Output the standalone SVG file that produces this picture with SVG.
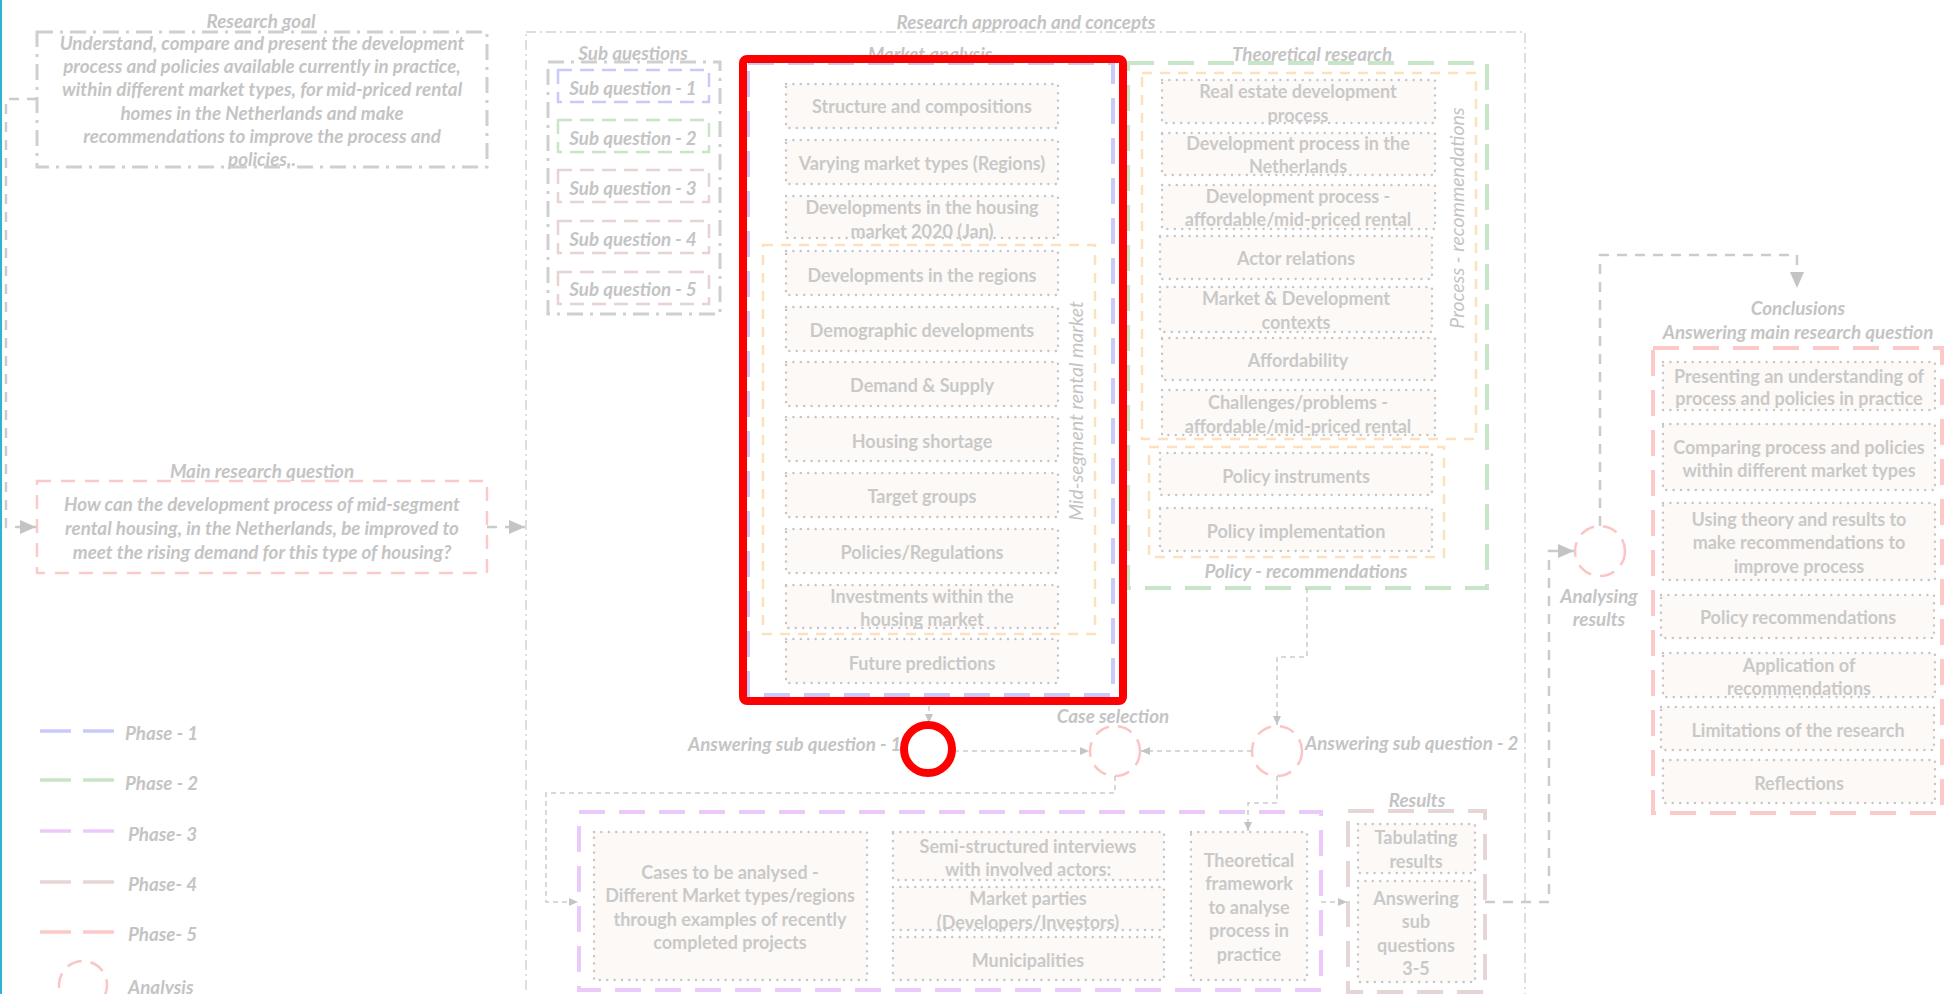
<svg xmlns="http://www.w3.org/2000/svg" width="1947" height="994" viewBox="0 0 1947 994">
  <style>
    .t { font-family: Lato, 'Liberation Sans', sans-serif; font-weight: 700; font-size: 18px; fill: #c9c9c9; text-anchor: middle; dominant-baseline: central; }
    .lab { font-family: Lato, 'Liberation Sans', sans-serif; font-weight: 700; font-style: italic; font-size: 18.8px; fill: #c4c4c4; text-anchor: middle; dominant-baseline: central; }
    .lab-light { font-weight: 400; font-size: 19.5px; }
    .st { text-anchor: start; }
    .item { fill: #fdf9f6; stroke: #c6c6c6; stroke-width: 2.5; stroke-dasharray: 0 7.4; stroke-linecap: round; }
    .dashdot { fill: none; stroke: #cfcfcf; stroke-width: 3; stroke-dasharray: 16 7 3 7; }
    .dashdot-thin { fill: none; stroke: #d4d4d4; stroke-width: 1.5; stroke-dasharray: 10 4 2 4; }
    .p1 { fill: none; stroke: #c8caf9; stroke-width: 4; stroke-dasharray: 26 14; }
    .p2 { fill: none; stroke: #c8e5c8; stroke-width: 4; stroke-dasharray: 26 14; }
    .p3 { fill: none; stroke: #ebcafb; stroke-width: 4; stroke-dasharray: 26 14; }
    .p4 { fill: none; stroke: #e5d5d5; stroke-width: 4; stroke-dasharray: 26 14; }
    .p5 { fill: none; stroke: #fcc9c9; stroke-width: 4; stroke-dasharray: 26 14; }
    .sq1 { fill: none; stroke: #c8caf9; stroke-width: 2.5; stroke-dasharray: 14 8; }
    .sq2 { fill: none; stroke: #c8e5c8; stroke-width: 2.5; stroke-dasharray: 14 8; }
    .sq3 { fill: none; stroke: #e8d3d3; stroke-width: 2.5; stroke-dasharray: 14 8; }
    .pink { fill: none; stroke: #fcc9c9; stroke-width: 2.5; stroke-dasharray: 14 10; }
    .orange { fill: none; stroke: #fde1bf; stroke-width: 2.5; stroke-dasharray: 10 8; }
    .circ { fill: none; stroke: #fcc5c5; stroke-width: 2.5; stroke-dasharray: 15 9; }
    .conn { fill: none; stroke: #cbcbcb; stroke-width: 1.5; stroke-dasharray: 5 4; }
    .conn-bold { fill: none; stroke: #cbcbcb; stroke-width: 2.5; stroke-dasharray: 10 8; }
    .leg { stroke-width: 3.5; }
    .hl { fill: none; stroke: #ff0000; stroke-width: 8; }
  </style>
  <defs>
    <marker id="arrowSmall" markerUnits="userSpaceOnUse" markerWidth="9" markerHeight="8" refX="9" refY="4" orient="auto">
      <path d="M0,0 L9,4 L0,8 Z" fill="#c4c4c4"/>
    </marker>
    <marker id="arrowBig" markerUnits="userSpaceOnUse" markerWidth="16" markerHeight="14" refX="16" refY="7" orient="auto">
      <path d="M0,0 L16,7 L0,14 Z" fill="#c4c4c4"/>
    </marker>
  </defs>

  <rect width="1947" height="994" fill="#ffffff"/>
  <!-- left page edge -->
  <line x1="1" y1="0" x2="1" y2="994" stroke="#2bb5d0" stroke-width="2"/>

  <!-- research goal -->
  <g id="research-goal">
    <text class="lab" x="261" y="20">Research goal</text>
    <rect class="dashdot" x="37" y="32" width="450" height="135"/>
    <text class="lab" x="262" y="42">Understand, compare and present the development</text>
    <text class="lab" x="262" y="65">process and policies available currently in practice,</text>
    <text class="lab" x="262" y="88">within different market types, for mid-priced rental</text>
    <text class="lab" x="262" y="112">homes in the Netherlands and make</text>
    <text class="lab" x="262" y="135">recommendations to improve the process and</text>
    <text class="lab" x="262" y="158">policies..</text>
  </g>

  <!-- main research question -->
  <g id="main-question">
    <text class="lab" x="262" y="470">Main research question</text>
    <rect class="pink" x="37" y="481" width="450" height="92"/>
    <text class="lab" x="262" y="503">How can the development process of mid-segment</text>
    <text class="lab" x="262" y="527">rental housing, in the Netherlands, be improved to</text>
    <text class="lab" x="262" y="551">meet the rising demand for this type of housing?</text>
  </g>

  <!-- research approach frame -->
  <g id="research-approach">
    <text class="lab" x="1026" y="21">Research approach and concepts</text>
    <rect class="dashdot-thin" x="526" y="32" width="999" height="980"/>
  </g>

  <!-- sub questions -->
  <g id="sub-questions">
    <text class="lab" x="633" y="52">Sub questions</text>
    <rect class="dashdot" x="548" y="62" width="172" height="252"/>
    <rect class="sq1" x="558" y="70" width="151" height="32"/>
    <text class="lab" x="633" y="87">Sub question - 1</text>
    <rect class="sq2" x="558" y="120" width="151" height="32"/>
    <text class="lab" x="633" y="137">Sub question - 2</text>
    <rect class="sq3" x="558" y="170" width="151" height="32"/>
    <text class="lab" x="633" y="187">Sub question - 3</text>
    <rect class="sq3" x="558" y="221" width="151" height="32"/>
    <text class="lab" x="633" y="238">Sub question - 4</text>
    <rect class="sq3" x="558" y="272" width="151" height="32"/>
    <text class="lab" x="633" y="288">Sub question - 5</text>
  </g>

  <!-- market analysis -->
  <g id="market-analysis">
    <text class="lab" x="930" y="53">Market analysis</text>
    <rect class="p1" x="748" y="63" width="365" height="632"/>
    <rect class="orange" x="763" y="245" width="332" height="389"/>
    <text class="lab lab-light" transform="translate(1075 411) rotate(-90)" x="0" y="0">Mid-segment rental market</text>
    <rect class="item" x="786" y="84" width="272" height="44"/>
    <text class="t" x="922" y="106">Structure and compositions</text>
    <rect class="item" x="786" y="140" width="272" height="44"/>
    <text class="t" x="922" y="163">Varying market types (Regions)</text>
    <rect class="item" x="786" y="196" width="272" height="42"/>
    <text class="t" x="922" y="207">Developments in the housing</text>
    <text class="t" x="922" y="231">market 2020 (Jan)</text>
    <rect class="item" x="786" y="251" width="272" height="44"/>
    <text class="t" x="922" y="275">Developments in the regions</text>
    <rect class="item" x="786" y="307" width="272" height="44"/>
    <text class="t" x="922" y="330">Demographic developments</text>
    <rect class="item" x="786" y="362" width="272" height="44"/>
    <text class="t" x="922" y="385">Demand &amp; Supply</text>
    <rect class="item" x="786" y="417" width="272" height="44"/>
    <text class="t" x="922" y="441">Housing shortage</text>
    <rect class="item" x="786" y="473" width="272" height="44"/>
    <text class="t" x="922" y="496">Target groups</text>
    <rect class="item" x="786" y="529" width="272" height="44"/>
    <text class="t" x="922" y="552">Policies/Regulations</text>
    <rect class="item" x="786" y="585" width="272" height="43"/>
    <text class="t" x="922" y="596">Investments within the</text>
    <text class="t" x="922" y="619">housing market</text>
    <rect class="item" x="786" y="639" width="272" height="44"/>
    <text class="t" x="922" y="663">Future predictions</text>
  </g>

  <!-- theoretical research -->
  <g id="theoretical-research">
    <text class="lab" x="1312" y="53">Theoretical research</text>
    <rect class="p2" x="1128" y="63" width="359" height="525"/>
    <rect class="orange" x="1142" y="73" width="334" height="366"/>
    <text class="lab lab-light" transform="translate(1456 218) rotate(-90)" x="0" y="0">Process - recommendations</text>
    <rect class="item" x="1162" y="80" width="273" height="43"/>
    <text class="t" x="1298" y="91">Real estate development</text>
    <text class="t" x="1298" y="115">process</text>
    <rect class="item" x="1162" y="133" width="273" height="42"/>
    <text class="t" x="1298" y="143">Development process in the</text>
    <text class="t" x="1298" y="166">Netherlands</text>
    <rect class="item" x="1162" y="185" width="273" height="44"/>
    <text class="t" x="1298" y="196">Development process -</text>
    <text class="t" x="1298" y="219">affordable/mid-priced rental</text>
    <rect class="item" x="1160" y="236" width="272" height="43"/>
    <text class="t" x="1296" y="258">Actor relations</text>
    <rect class="item" x="1160" y="287" width="272" height="45"/>
    <text class="t" x="1296" y="298">Market &amp; Development</text>
    <text class="t" x="1296" y="322">contexts</text>
    <rect class="item" x="1162" y="338" width="273" height="42"/>
    <text class="t" x="1298" y="360">Affordability</text>
    <rect class="item" x="1162" y="390" width="273" height="45"/>
    <text class="t" x="1298" y="402">Challenges/problems -</text>
    <text class="t" x="1298" y="426">affordable/mid-priced rental</text>
    <rect class="orange" x="1149" y="447" width="295" height="110"/>
    <rect class="item" x="1160" y="453" width="272" height="42"/>
    <text class="t" x="1296" y="476">Policy instruments</text>
    <rect class="item" x="1160" y="508" width="272" height="43"/>
    <text class="t" x="1296" y="531">Policy implementation</text>
    <text class="lab" x="1306" y="570">Policy - recommendations</text>
  </g>

  <!-- analysis points -->
  <g id="analysis-sq1">
    <circle class="circ" cx="928" cy="749" r="25"/>
    <text class="lab st" x="688" y="743">Answering sub question - 1</text>
  </g>
  <g id="case-selection">
    <circle class="circ" cx="1115" cy="751" r="25"/>
    <text class="lab" x="1113" y="715">Case selection</text>
  </g>
  <g id="analysis-sq2">
    <circle class="circ" cx="1277" cy="751" r="25"/>
    <text class="lab st" x="1305" y="742">Answering sub question - 2</text>
  </g>

  <!-- case study phase -->
  <g id="case-study">
    <rect class="p3" x="579" y="812" width="742" height="178"/>
    <rect class="item" x="594" y="832" width="273" height="148"/>
    <text class="t" x="730" y="872">Cases to be analysed -</text>
    <text class="t" x="730" y="895">Different Market types/regions</text>
    <text class="t" x="730" y="919">through examples of recently</text>
    <text class="t" x="730" y="942">completed projects</text>
    <rect class="item" x="893" y="832" width="271" height="48"/>
    <text class="t" x="1028" y="846">Semi-structured interviews</text>
    <text class="t" x="1028" y="869">with involved actors:</text>
    <rect class="item" x="893" y="887" width="271" height="43"/>
    <text class="t" x="1028" y="898">Market parties</text>
    <text class="t" x="1028" y="922">(Developers/Investors)</text>
    <rect class="item" x="893" y="937" width="271" height="43"/>
    <text class="t" x="1028" y="960">Municipalities</text>
    <rect class="item" x="1191" y="832" width="116" height="148"/>
    <text class="t" x="1249" y="860">Theoretical</text>
    <text class="t" x="1249" y="883">framework</text>
    <text class="t" x="1249" y="907">to analyse</text>
    <text class="t" x="1249" y="930">process in</text>
    <text class="t" x="1249" y="954">practice</text>
  </g>

  <!-- results -->
  <g id="results">
    <text class="lab" x="1417" y="799">Results</text>
    <rect class="p4" x="1348" y="811" width="137" height="181"/>
    <rect class="item" x="1358" y="824" width="117" height="49"/>
    <text class="t" x="1416" y="837">Tabulating</text>
    <text class="t" x="1416" y="861">results</text>
    <rect class="item" x="1358" y="881" width="117" height="101"/>
    <text class="t" x="1416" y="898">Answering</text>
    <text class="t" x="1416" y="921">sub</text>
    <text class="t" x="1416" y="945">questions</text>
    <text class="t" x="1416" y="968">3-5</text>
  </g>

  <!-- analysing results -->
  <g id="analysing-results">
    <circle class="circ" cx="1600" cy="551" r="25"/>
    <text class="lab" x="1599" y="595">Analysing</text>
    <text class="lab" x="1599" y="618">results</text>
  </g>

  <!-- conclusions -->
  <g id="conclusions">
    <text class="lab" x="1798" y="307">Conclusions</text>
    <text class="lab" x="1798" y="331">Answering main research question</text>
    <rect class="p5" x="1653" y="348" width="289" height="465"/>
    <rect class="item" x="1663" y="362" width="272" height="48"/>
    <text class="t" x="1799" y="376">Presenting an understanding of</text>
    <text class="t" x="1799" y="398">process and policies in practice</text>
    <rect class="item" x="1663" y="424" width="272" height="66"/>
    <text class="t" x="1799" y="447">Comparing process and policies</text>
    <text class="t" x="1799" y="470">within different market types</text>
    <rect class="item" x="1663" y="503" width="272" height="77"/>
    <text class="t" x="1799" y="519">Using theory and results to</text>
    <text class="t" x="1799" y="542">make recommendations to</text>
    <text class="t" x="1799" y="566">improve process</text>
    <rect class="item" x="1661" y="595" width="273" height="43"/>
    <text class="t" x="1798" y="617">Policy recommendations</text>
    <rect class="item" x="1663" y="653" width="272" height="44"/>
    <text class="t" x="1799" y="665">Application of</text>
    <text class="t" x="1799" y="688">recommendations</text>
    <rect class="item" x="1661" y="707" width="273" height="43"/>
    <text class="t" x="1798" y="730">Limitations of the research</text>
    <rect class="item" x="1663" y="760" width="272" height="43"/>
    <text class="t" x="1799" y="783">Reflections</text>
  </g>

  <!-- legend -->
  <g id="legend">
    <line class="leg" x1="40" y1="731" x2="71" y2="731" stroke="#c8caf9"/>
    <line class="leg" x1="83" y1="731" x2="114" y2="731" stroke="#c8caf9"/>
    <text class="lab st" x="125" y="732">Phase - 1</text>
    <line class="leg" x1="40" y1="780" x2="71" y2="780" stroke="#c8e5c8"/>
    <line class="leg" x1="83" y1="780" x2="114" y2="780" stroke="#c8e5c8"/>
    <text class="lab st" x="125" y="782">Phase - 2</text>
    <line class="leg" x1="40" y1="831" x2="71" y2="831" stroke="#ebcafb"/>
    <line class="leg" x1="83" y1="831" x2="114" y2="831" stroke="#ebcafb"/>
    <text class="lab st" x="128" y="833">Phase- 3</text>
    <line class="leg" x1="40" y1="882" x2="71" y2="882" stroke="#e5d5d5"/>
    <line class="leg" x1="83" y1="882" x2="114" y2="882" stroke="#e5d5d5"/>
    <text class="lab st" x="128" y="883">Phase- 4</text>
    <line class="leg" x1="40" y1="932" x2="71" y2="932" stroke="#fcc9c9"/>
    <line class="leg" x1="83" y1="932" x2="114" y2="932" stroke="#fcc9c9"/>
    <text class="lab st" x="128" y="933">Phase- 5</text>
    <circle class="circ" cx="83" cy="985" r="24"/>
    <text class="lab st" x="128" y="986">Analysis</text>
  </g>

  <!-- connectors -->
  <g id="connectors">
    <path class="conn-bold" d="M37,99 H6 V527 H36" marker-end="url(#arrowBig)"/>
    <path class="conn-bold" d="M487,527 H525" marker-end="url(#arrowBig)"/>
    <path class="conn" d="M929,697 V723" marker-end="url(#arrowSmall)"/>
    <path class="conn" d="M954,751 H1089" marker-end="url(#arrowSmall)"/>
    <path class="conn" d="M1252,751 H1141" marker-end="url(#arrowSmall)"/>
    <path class="conn" d="M1307,588 V657 H1277 V725" marker-end="url(#arrowSmall)"/>
    <path class="conn" d="M1115,776 V793 H546 V902 H578" marker-end="url(#arrowSmall)"/>
    <path class="conn" d="M1277,776 V803 H1248 V831" marker-end="url(#arrowSmall)"/>
    <path class="conn" d="M1321,902 H1347" marker-end="url(#arrowSmall)"/>
    <path class="conn-bold" d="M1485,902 H1549 V551 H1574" marker-end="url(#arrowBig)"/>
    <path class="conn-bold" d="M1600,526 V255 H1797 V288" marker-end="url(#arrowBig)"/>
  </g>

  <!-- highlight marks -->
  <g id="highlights">
    <rect class="hl" x="743" y="59" width="380" height="642" rx="4"/>
    <circle class="hl" cx="928" cy="749" r="24" stroke-width="7.5"/>
  </g>
</svg>
